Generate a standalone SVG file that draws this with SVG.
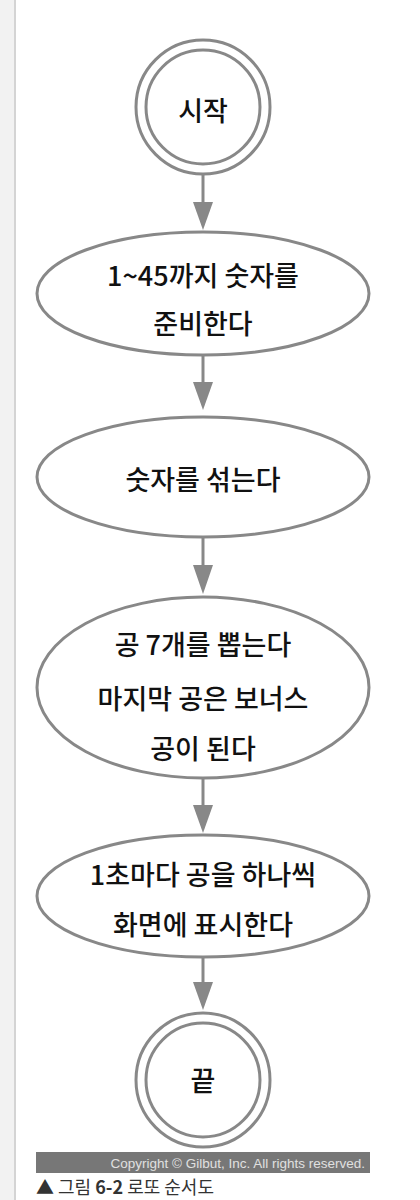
<svg xmlns="http://www.w3.org/2000/svg" width="420" height="1200" viewBox="0 0 420 1200">
<style>
.shape{fill:#fff;stroke:#888;stroke-width:3}
.lbl{font-family:"Noto Sans CJK KR","Noto Sans",sans-serif;font-size:27px;font-weight:500;fill:#111;text-anchor:middle;dominant-baseline:central}
.conn{stroke:#888;stroke-width:3;fill:none}
.head{fill:#888}
</style>
<rect x="0" y="0" width="420" height="1200" fill="#fff"/>
<rect x="0" y="0" width="14" height="1200" fill="#f2f2f2"/>
<rect x="14" y="0" width="2" height="1200" fill="#d4d4d4"/>

<g id="connectors">
<line class="conn" x1="203" y1="174" x2="203" y2="204"/>
<path class="head" d="M193,202 L213,202 L203,230 Z"/>
<line class="conn" x1="203" y1="355" x2="203" y2="384"/>
<path class="head" d="M193,382 L213,382 L203,410 Z"/>
<line class="conn" x1="203" y1="537" x2="203" y2="567"/>
<path class="head" d="M193,565 L213,565 L203,594 Z"/>
<line class="conn" x1="203" y1="778" x2="203" y2="807"/>
<path class="head" d="M193,805 L213,805 L203,833 Z"/>
<line class="conn" x1="203" y1="957" x2="203" y2="984"/>
<path class="head" d="M193,982 L213,982 L203,1010 Z"/>
</g>

<g id="start">
<circle class="shape" cx="203" cy="107" r="67"/>
<circle class="shape" cx="203" cy="107" r="57"/>
<text class="lbl" x="203" y="109">시작</text>
</g>

<g id="prepare">
<ellipse class="shape" cx="203" cy="293.5" rx="166" ry="61.5"/>
<text class="lbl" x="203" y="274">1~45까지 숫자를</text>
<text class="lbl" x="203" y="322">준비한다</text>
</g>

<g id="shuffle">
<ellipse class="shape" cx="203" cy="477" rx="166" ry="60"/>
<text class="lbl" x="203" y="478">숫자를 섞는다</text>
</g>

<g id="draw">
<ellipse class="shape" cx="203" cy="687.5" rx="166" ry="90.5"/>
<text class="lbl" x="203" y="643">공 7개를 뽑는다</text>
<text class="lbl" x="203" y="697">마지막 공은 보너스</text>
<text class="lbl" x="203" y="747">공이 된다</text>
</g>

<g id="display">
<ellipse class="shape" cx="203" cy="896" rx="166" ry="61"/>
<text class="lbl" x="203" y="873">1초마다 공을 하나씩</text>
<text class="lbl" x="203" y="923">화면에 표시한다</text>
</g>

<g id="end">
<circle class="shape" cx="203" cy="1080" r="67"/>
<circle class="shape" cx="203" cy="1080" r="57"/>
<text class="lbl" x="203" y="1079">끝</text>
</g>

<g id="copyright">
<rect x="36" y="1152" width="334" height="21" fill="#777"/>
<text x="365" y="1168" font-family="'Liberation Sans',Arial,sans-serif" font-size="13.5" fill="#e0e0e0" text-anchor="end">Copyright © Gilbut, Inc. All rights reserved.</text>
</g>

<g id="caption">
<text x="36" y="1194" font-family="'Noto Sans CJK KR','Noto Sans',sans-serif" font-size="18" fill="#333">▲ 그림 <tspan font-weight="bold">6-2</tspan> 로또 순서도</text>
</g>
</svg>
